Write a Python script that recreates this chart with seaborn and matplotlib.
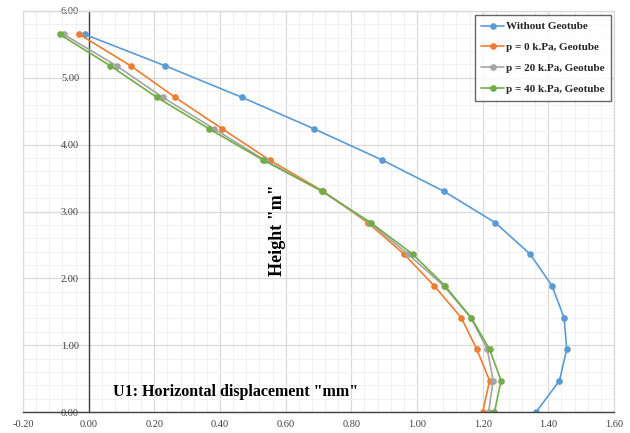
import matplotlib
matplotlib.use("Agg")
import matplotlib.pyplot as plt
import seaborn as sns
import pandas as pd
from matplotlib.ticker import MultipleLocator, FormatStrFormatter

height = [5.65, 5.18, 4.71, 4.24, 3.77, 3.30, 2.83, 2.36, 1.89, 1.41, 0.94, 0.47, 0.00]
without_geotube = [-0.012, 0.233, 0.466, 0.685, 0.894, 1.083, 1.239, 1.345, 1.411, 1.448, 1.456, 1.434, 1.363]
p0_geotube = [-0.028, 0.128, 0.263, 0.406, 0.551, 0.715, 0.851, 0.961, 1.052, 1.135, 1.182, 1.221, 1.200]
p20_geotube = [-0.076, 0.085, 0.225, 0.381, 0.536, 0.712, 0.856, 0.973, 1.081, 1.164, 1.214, 1.232, 1.218]
p40_geotube = [-0.088, 0.066, 0.207, 0.366, 0.531, 0.712, 0.860, 0.987, 1.085, 1.165, 1.221, 1.256, 1.236]

series_names = ["Without Geotube", "p = 0 k.Pa, Geotube", "p = 20 k.Pa, Geotube", "p = 40 k.Pa, Geotube"]
series_vals = [without_geotube, p0_geotube, p20_geotube, p40_geotube]
colors = ["#5B9BD5", "#ED7D31", "#A5A5A5", "#70AD47"]

rows = []
for name, vals in zip(series_names, series_vals):
    for h, v in zip(height, vals):
        rows.append({"series": name, "disp": v, "height": h})
df = pd.DataFrame(rows)

sns.set_style("white")
plt.rcParams["font.family"] = ["Liberation Serif", "DejaVu Serif"]

fig = plt.figure(figsize=(6.3, 4.33), dpi=100)
ax = fig.add_axes([23/630, 21/433, (614-23)/630, (412-11)/433])

sns.lineplot(data=df, x="disp", y="height", hue="series", hue_order=series_names,
             palette=colors, sort=False, estimator=None, marker="o", markersize=4.8,
             markeredgewidth=0, linewidth=1.2, ax=ax, legend=True)

ax.set_xlim(-0.2, 1.6)
ax.set_ylim(0, 6)
ax.xaxis.set_major_locator(MultipleLocator(0.2))
ax.xaxis.set_minor_locator(MultipleLocator(0.04))
ax.yaxis.set_major_locator(MultipleLocator(1.0))
ax.yaxis.set_minor_locator(MultipleLocator(0.2))
ax.grid(which="major", color="#d9d9d9", linewidth=0.9)
ax.grid(which="minor", color="#f0f0f0", linewidth=0.7)
ax.set_axisbelow(True)

ax.xaxis.set_major_formatter(FormatStrFormatter("%.2f"))
ax.yaxis.set_major_formatter(FormatStrFormatter("%.2f"))

ax.spines["left"].set_position(("data", 0))
for s in ["left", "bottom"]:
    ax.spines[s].set_color("#404040")
    ax.spines[s].set_linewidth(1.0)
for s in ["top", "right"]:
    ax.spines[s].set_color("#d9d9d9")
    ax.spines[s].set_linewidth(0.9)
ax.spines["left"].set_zorder(1.5)

ax.tick_params(axis="x", which="major", direction="inout", length=6, width=1.0,
               color="#404040", labelsize=7.5, labelcolor="#404040", pad=3)
ax.tick_params(axis="x", which="minor", length=0)
ax.tick_params(axis="y", which="both", length=0, labelsize=7.5, labelcolor="#404040", pad=7)

# left frame line at x=-0.2
ax.axvline(-0.2, color="#d9d9d9", linewidth=0.9, zorder=0.5)

ax.set_xlabel("")
ax.set_ylabel("")
ax.text(0.073, 0.30, 'U1: Horizontal displacement "mm"', fontsize=11.5, fontweight="bold",
        ha="left", va="center", color="black")
ax.text(0.575, 2.72, 'Height "m"', fontsize=13, fontweight="bold", rotation=90,
        ha="center", va="center", color="black")

leg = ax.legend(loc="upper right", frameon=True, fancybox=False,
                prop={"weight": "bold", "size": 8},
                handlelength=2.0, handletextpad=0.2, labelspacing=1.0,
                borderpad=0.6, borderaxespad=0)
leg.set_bbox_to_anchor((611/630, (433-15)/433), transform=fig.transFigure)
leg.get_frame().set_edgecolor("#404040")
leg.get_frame().set_linewidth(1.0)

fig.savefig("out.png", dpi=100)
